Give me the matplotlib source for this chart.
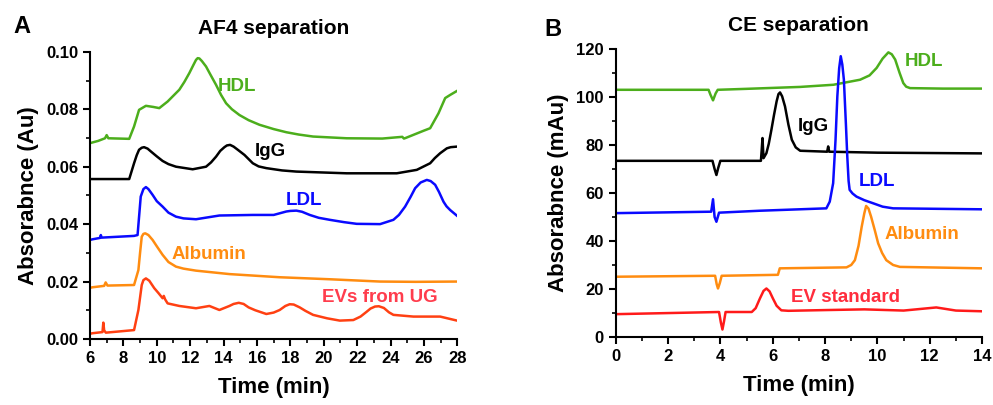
import matplotlib.pyplot as plt
from matplotlib.ticker import MultipleLocator

plt.rcParams['font.family'] = ['Liberation Sans', 'DejaVu Sans']
plt.rcParams['font.weight'] = 'bold'

# ---- AF4 separation (panel A) ----
af4_hdl_t = [6.0, 6.5, 6.9, 7.0, 7.1, 8.35, 8.64, 8.94, 9.35, 9.8, 10.15, 10.65, 11.35, 11.65,
             11.95, 12.2, 12.35, 12.45, 12.55, 12.7, 12.95, 13.2, 13.55, 13.85, 14.15, 14.5,
             14.95, 15.5, 16.15, 17.0, 17.76, 18.5, 19.36, 21.37, 23.5, 24.7, 24.8, 24.9,
             25.97, 26.37, 26.87, 27.27, 27.57, 27.98]
af4_hdl_y = [0.0682, 0.0690, 0.0699, 0.0710, 0.0699, 0.0697, 0.0740, 0.0798, 0.0812, 0.0808,
             0.0804, 0.0827, 0.0868, 0.0895, 0.0926, 0.0955, 0.0972, 0.0978, 0.0977, 0.0968,
             0.0949, 0.0922, 0.0885, 0.0850, 0.0821, 0.0800, 0.0780, 0.0762, 0.0746, 0.0731,
             0.0720, 0.0712, 0.0705, 0.0699, 0.0698, 0.0704, 0.0698, 0.0700, 0.0725, 0.0734,
             0.0786, 0.0839, 0.0850, 0.0864]

af4_igg_t = [6.0, 8.35, 8.64, 8.8, 8.94, 9.1, 9.24, 9.45, 9.65, 10.0, 10.35, 10.7, 11.15, 12.15,
             12.95, 13.25, 13.55, 13.8, 14.05, 14.2, 14.39, 14.6, 14.85, 15.05, 15.25, 15.75,
             16.1, 16.56, 17.5, 18.36, 21.37, 24.37, 25.57, 26.37, 26.65, 26.97, 27.37, 27.6,
             27.98]
af4_igg_y = [0.0557, 0.0557, 0.0612, 0.0640, 0.0659, 0.0666, 0.0668, 0.0663, 0.0653, 0.0636,
             0.0620, 0.0609, 0.0600, 0.0591, 0.0600, 0.0615, 0.0635, 0.0655, 0.0668, 0.0674,
             0.0676, 0.0670, 0.0659, 0.0650, 0.0641, 0.0612, 0.0601, 0.0595, 0.0587, 0.0583,
             0.0577, 0.0577, 0.0589, 0.0612, 0.0630, 0.0647, 0.0664, 0.0668, 0.0670]

af4_ldl_t = [6.0, 6.14, 6.6, 6.65, 6.7, 8.64, 8.85, 9.04, 9.2, 9.35, 9.5, 9.75, 10.0, 10.35,
             10.7, 11.15, 11.6, 12.35, 13.75, 15.75, 17.0, 17.76, 18.0, 18.36, 18.7, 19.16,
             19.7, 20.36, 21.2, 21.97, 23.37, 24.17, 24.5, 24.87, 25.2, 25.47, 25.8, 26.17,
             26.4, 26.67, 26.9, 27.17, 27.35, 27.57, 27.98]
af4_ldl_y = [0.0345, 0.0347, 0.0352, 0.0362, 0.0353, 0.0359, 0.0362, 0.0496, 0.0522, 0.0529,
             0.0522, 0.0502, 0.0480, 0.0461, 0.0440, 0.0426, 0.0420, 0.0417, 0.0430, 0.0432,
             0.0432, 0.0444, 0.0446, 0.0447, 0.0443, 0.0432, 0.0422, 0.0415, 0.0407, 0.0401,
             0.0400, 0.0415, 0.0432, 0.0461, 0.0495, 0.0525, 0.0545, 0.0554, 0.0550, 0.0537,
             0.0512, 0.0478, 0.0462, 0.0449, 0.0429]

af4_alb_t = [6.0, 6.14, 6.85, 6.94, 7.05, 8.64, 8.9, 9.0, 9.1, 9.2, 9.31, 9.5, 9.75, 10.0,
             10.35, 10.7, 11.15, 11.6, 12.35, 14.35, 17.36, 20.36, 23.37, 25.5, 27.98]
af4_alb_y = [0.0178, 0.0180, 0.0185, 0.0197, 0.0186, 0.0188, 0.0240, 0.0300, 0.0356, 0.0366,
             0.0368, 0.0362, 0.0345, 0.0323, 0.0293, 0.0268, 0.0252, 0.0245, 0.0238, 0.0226,
             0.0215, 0.0208, 0.0200, 0.0199, 0.0200]

af4_ev_t = [6.0, 6.14, 6.75, 6.8, 6.85, 6.95, 8.64, 8.9, 9.1, 9.2, 9.35, 9.55, 9.85, 10.1,
            10.35, 10.42, 10.5, 10.65, 11.35, 12.35, 13.15, 13.75, 14.35, 14.6, 14.91, 15.2,
            15.5, 15.9, 16.56, 17.0, 17.36, 17.7, 17.96, 18.2, 18.56, 18.9, 19.36, 20.2, 20.96,
            21.77, 22.2, 22.57, 22.8, 23.07, 23.3, 23.6, 23.9, 24.17, 25.37, 26.97, 27.98]
af4_ev_y = [0.0018, 0.0020, 0.0024, 0.0057, 0.0030, 0.0022, 0.0031, 0.0101, 0.0188, 0.0205,
            0.0211, 0.0203, 0.0177, 0.0160, 0.0142, 0.0150, 0.0138, 0.0124, 0.0115, 0.0107,
            0.0115, 0.0101, 0.0115, 0.0122, 0.0126, 0.0122, 0.0110, 0.0100, 0.0087, 0.0092,
            0.0101, 0.0115, 0.0121, 0.0120, 0.0110, 0.0098, 0.0084, 0.0072, 0.0064, 0.0066,
            0.0078, 0.0095, 0.0106, 0.0113, 0.0114, 0.0108, 0.0093, 0.0084, 0.0078, 0.0078,
            0.0064]

# ---- CE separation (panel B) ----
ce_hdl_t = [0.0, 3.55, 3.62, 3.72, 3.82, 3.9, 5.0, 7.05, 8.32, 9.34, 9.7, 9.97, 10.2, 10.42,
            10.55, 10.68, 10.85, 10.99, 11.1, 11.25, 12.5, 14.0]
ce_hdl_y = [103.0, 103.0, 101.0, 98.6, 101.5, 103.0, 103.4, 104.2, 105.1, 107.2, 109.0, 112.1,
            116.0, 118.6, 117.8, 115.6, 110.0, 105.8, 104.3, 103.7, 103.5, 103.5]

ce_igg_t = [0.0, 3.7, 3.78, 3.85, 3.92, 4.0, 5.55, 5.58, 5.61, 5.65, 5.76, 5.85, 5.95, 6.05,
            6.15, 6.22, 6.28, 6.36, 6.47, 6.6, 6.73, 6.88, 7.05, 8.08, 8.12, 8.16, 10.0, 14.0]
ce_igg_y = [73.4, 73.4, 70.0, 67.5, 70.5, 73.4, 73.4, 78.0, 82.9, 74.5, 76.6, 80.5, 86.3, 92.5,
            98.2, 101.2, 101.9, 100.3, 96.1, 88.5, 82.2, 79.0, 77.6, 77.2, 79.4, 77.2, 76.8,
            76.5]

ce_ldl_t = [0.0, 3.65, 3.72, 3.78, 3.85, 3.95, 5.5, 8.05, 8.18, 8.31, 8.4, 8.47, 8.54, 8.6,
            8.66, 8.72, 8.8, 8.85, 8.9, 8.94, 9.05, 9.2, 9.5, 9.84, 10.2, 10.6, 14.0]
ce_ldl_y = [51.6, 52.2, 57.4, 50.0, 48.0, 51.8, 52.6, 53.6, 56.4, 64.1, 82.0, 100.3, 112.0,
            117.0, 113.5, 107.2, 88.0, 75.2, 65.0, 61.3, 59.8, 58.5, 57.0, 55.7, 54.3, 53.6,
            53.2]

ce_alb_t = [0.0, 3.8, 3.86, 3.91, 3.98, 4.05, 6.2, 6.27, 8.82, 9.0, 9.14, 9.28, 9.4, 9.5, 9.57,
            9.66, 9.76, 9.9, 10.03, 10.18, 10.34, 10.6, 10.86, 14.0]
ce_alb_y = [25.1, 25.5, 22.0, 20.2, 22.5, 25.5, 25.9, 28.6, 29.0, 30.0, 32.0, 38.0, 45.9, 51.5,
            54.6, 53.5, 50.1, 44.5, 39.0, 35.0, 32.0, 30.0, 29.2, 28.6]

ce_ev_t = [0.0, 3.95, 4.02, 4.08, 4.14, 4.2, 5.2, 5.35, 5.51, 5.65, 5.76, 5.88, 6.01, 6.15,
           6.33, 6.6, 8.0, 9.5, 11.0, 12.25, 13.0, 14.0]
ce_ev_y = [9.5, 10.4, 6.0, 3.1, 6.5, 10.4, 10.4, 12.0, 16.0, 19.2, 20.2, 19.0, 16.0, 13.0,
           11.1, 10.9, 11.2, 11.5, 11.0, 12.3, 11.0, 10.7]

green = '#4cae1c'
blue = '#0a0aff'
orange = '#ff8c10'

fig = plt.figure(figsize=(9.93, 4.05), dpi=100)
axA = fig.add_axes([0.0906, 0.163, 0.370, 0.709])
axB = fig.add_axes([0.620, 0.168, 0.369, 0.711])

lw = 1.8
axA.plot(af4_hdl_t, af4_hdl_y, color=green, lw=lw)
axA.plot(af4_igg_t, af4_igg_y, color='black', lw=lw)
axA.plot(af4_ldl_t, af4_ldl_y, color=blue, lw=lw)
axA.plot(af4_alb_t, af4_alb_y, color=orange, lw=lw)
axA.plot(af4_ev_t, af4_ev_y, color='#ff4012', lw=lw)

axB.plot(ce_hdl_t, ce_hdl_y, color=green, lw=lw)
axB.plot(ce_igg_t, ce_igg_y, color='black', lw=lw)
axB.plot(ce_ldl_t, ce_ldl_y, color=blue, lw=lw)
axB.plot(ce_alb_t, ce_alb_y, color=orange, lw=lw)
axB.plot(ce_ev_t, ce_ev_y, color='#ff1a1a', lw=lw)

lab = dict(fontsize=13.5, fontweight='bold', ha='center', va='center')
axA.text(14.83, 0.0878, 'HDL', color=green, **lab)
axA.text(16.8, 0.0652, 'IgG', color='black', **lab)
axA.text(18.8, 0.0484, 'LDL', color=blue, **lab)
axA.text(13.15, 0.0293, 'Albumin', color=orange, **lab)
axA.text(23.37, 0.0146, 'EVs from UG', color='#ff3d4d', **lab)

axB.text(11.77, 114.9, 'HDL', color=green, **lab)
axB.text(7.56, 87.7, 'IgG', color='black', **lab)
axB.text(9.98, 64.7, 'LDL', color=blue, **lab)
axB.text(11.7, 42.5, 'Albumin', color=orange, **lab)
axB.text(8.77, 16.3, 'EV standard', color='#ff2d3d', **lab)

for ax in (axA, axB):
    ax.spines['top'].set_visible(False)
    ax.spines['right'].set_visible(False)
    ax.spines['left'].set_linewidth(1.5)
    ax.spines['bottom'].set_linewidth(1.5)
    ax.tick_params(which='major', direction='out', length=5, width=1.5, labelsize=12)
    ax.tick_params(which='minor', direction='out', length=3, width=1.2)
    ax.set_xlabel('Time (min)', fontsize=16, fontweight='bold', labelpad=8)

axA.set_xlim(6, 28)
axA.set_ylim(0, 0.10)
axA.xaxis.set_major_locator(MultipleLocator(2))
axA.xaxis.set_minor_locator(MultipleLocator(1))
axA.yaxis.set_minor_locator(MultipleLocator(0.01))
axA.set_yticks([0, 0.02, 0.04, 0.06, 0.08, 0.10])
axA.set_yticklabels(['0.00', '0.02', '0.04', '0.06', '0.08', '0.10'])
axA.set_ylabel('Absorabnce (Au)', fontsize=16, fontweight='bold', labelpad=5)
axA.set_title('AF4 separation', fontsize=15, fontweight='bold', pad=13)

axB.set_xlim(0, 14)
axB.set_ylim(0, 120)
axB.xaxis.set_major_locator(MultipleLocator(2))
axB.xaxis.set_minor_locator(MultipleLocator(1))
axB.yaxis.set_major_locator(MultipleLocator(20))
axB.yaxis.set_minor_locator(MultipleLocator(10))
axB.set_ylabel('Absorabnce (mAu)', fontsize=16, fontweight='bold', labelpad=5)
axB.set_title('CE separation', fontsize=15, fontweight='bold', pad=13)

for ax in (axA, axB):
    for t in ax.get_xticklabels() + ax.get_yticklabels():
        t.set_fontweight('bold')

fig.text(0.022, 0.935, 'A', fontsize=17, fontweight='bold', ha='center', va='center')
fig.text(0.557, 0.928, 'B', fontsize=17, fontweight='bold', ha='center', va='center')

fig.savefig('out.png', dpi=100)
